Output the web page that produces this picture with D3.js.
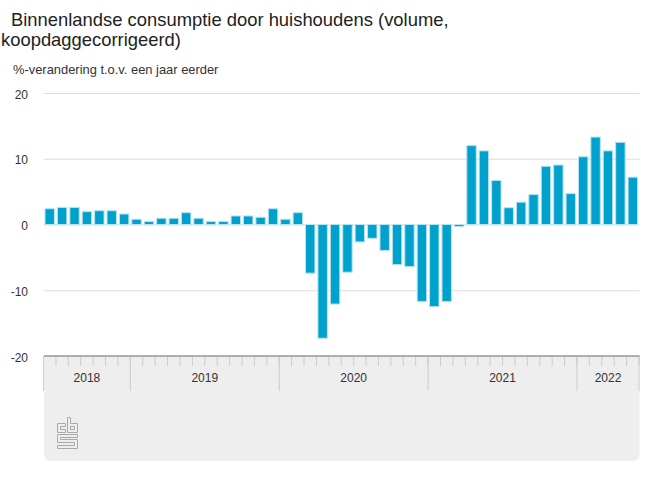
<!DOCTYPE html>
<html>
<head>
<meta charset="utf-8">
<script src="https://d3js.org/d3.v7.min.js"></script>
<style>
  html, body { margin: 0; padding: 0; background: #fff; }
  text { font-family: "Liberation Sans", Arial, sans-serif; }
</style>
</head>
<body>
<script>
var titleLines = ["Binnenlandse consumptie door huishoudens (volume,", "koopdaggecorrigeerd)"];
var subtitle = "%-verandering t.o.v. een jaar eerder";

// jun 2018 t/m mei 2022
var years = [2018, 2019, 2020, 2021, 2022];
var monthsPerYear = [7, 12, 12, 12, 5];
var yTicks = [20, 10, 0, -10, -20];
var values = [
  2.4, 2.6, 2.6, 1.95, 2.1, 2.1, 1.6,
  0.8, 0.45, 0.95, 0.95, 1.8, 0.95, 0.45, 0.45, 1.3, 1.3, 1.1, 2.4,
  0.8, 1.8, -7.4, -17.3, -12.1, -7.25, -2.65, -2.1, -3.95, -6.1, -6.4, -11.7,
  -12.5, -11.7, -0.3, 12.0, 11.2, 6.7, 2.55, 3.4, 4.55, 8.85, 9.05, 4.7,
  10.3, 13.3, 11.2, 12.5, 7.2
];

var width = 650, height = 488;
// plot area (window.top is taken, so no plain "top" here)
var plotLeft = 43.5, plotRight = 639, plotTop = 93, plotBottom = 356;
var footerLeft = 44, footerRight = 639.5, footerBottom = 461;

var svg = d3.select("body").append("svg")
  .attr("width", width)
  .attr("height", height)
  .style("display", "block");

var x = d3.scaleBand()
  .domain(d3.range(values.length))
  .range([plotLeft, plotRight])
  .paddingInner(0.24)
  .paddingOuter(0.12);

var y = d3.scaleLinear().domain([-20, 20]).range([plotBottom, plotTop]);

// grey footer with rounded lower corners
svg.append("path")
  .attr("d", "M" + footerLeft + "," + plotBottom + "H" + footerRight + "V" + (footerBottom - 6) + "a6,6 0 0 1 -6,6H" + (footerLeft + 6) + "a6,6 0 0 1 -6,-6Z")
  .attr("fill", "#eeeeee");

// title
svg.append("text").attr("x", 11).attr("y", 26).attr("font-size", 18.4).attr("fill", "#222").text(titleLines[0]);
svg.append("text").attr("x", 1).attr("y", 46).attr("font-size", 18.4).attr("fill", "#222").text(titleLines[1]);
svg.append("text").attr("x", 13).attr("y", 74).attr("font-size", 12.9).attr("fill", "#333").text(subtitle);

// y axis + gridlines
var yAxis = d3.axisLeft(y)
  .tickValues(yTicks)
  .tickFormat(function(d) { return String(d); })
  .tickSize(footerLeft - footerRight)
  .tickPadding(16);
var yG = svg.append("g").attr("transform", "translate(" + footerLeft + ",0)").call(yAxis);
yG.select(".domain").remove();
yG.selectAll(".tick line").attr("stroke", "#dddddd");
yG.selectAll(".tick text")
  .attr("font-size", 12)
  .attr("dy", "0.42em")
  .attr("fill", "#333")
  .attr("font-family", "Liberation Sans");

// bars
svg.selectAll("rect.bar")
  .data(values)
  .enter()
  .append("rect")
  .attr("class", "bar")
  .attr("x", function(d, i) { return x(i); })
  .attr("width", x.bandwidth())
  .attr("y", function(d) { return d > 0 ? y(d) : y(0); })
  .attr("height", function(d) { return Math.abs(y(d) - y(0)); })
  .attr("fill", "#00a1cd")
  .attr("stroke", "#b5e3f0")
  .attr("stroke-width", 1);

// time axis
var axisX = d3.scaleLinear().domain([0, values.length]).range([plotLeft, plotRight]);
var monthEdges = d3.range(values.length + 1);
var yearEdges = [0];
monthsPerYear.forEach(function(m, i) { yearEdges.push(yearEdges[i] + m); });

svg.selectAll("line.month")
  .data(monthEdges)
  .enter()
  .append("line")
  .attr("class", "month")
  .attr("x1", function(d) { return axisX(d); })
  .attr("x2", function(d) { return axisX(d); })
  .attr("y1", plotBottom)
  .attr("y2", plotBottom + 10)
  .attr("stroke", "#cccccc");

svg.selectAll("line.year")
  .data(yearEdges)
  .enter()
  .append("line")
  .attr("class", "year")
  .attr("x1", function(d) { return axisX(d); })
  .attr("x2", function(d) { return axisX(d); })
  .attr("y1", plotBottom)
  .attr("y2", plotBottom + 35)
  .attr("stroke", "#cccccc");

svg.append("line")
  .attr("x1", footerLeft).attr("x2", footerRight)
  .attr("y1", plotBottom).attr("y2", plotBottom)
  .attr("stroke", "#999999")
  .attr("stroke-width", 1.5);

svg.selectAll("text.year")
  .data(years)
  .enter()
  .append("text")
  .attr("class", "year")
  .attr("x", function(d, i) { return axisX((yearEdges[i] + yearEdges[i + 1]) / 2); })
  .attr("y", 382)
  .attr("text-anchor", "middle")
  .attr("font-size", 12)
  .attr("fill", "#333")
  .text(function(d) { return d; });

// cbs logo
var logo = svg.append("g")
  .attr("transform", "translate(57.5,417.5)")
  .attr("fill", "none")
  .attr("stroke", "#aaaaaa")
  .attr("stroke-width", 1);
logo.append("path").attr("d", "M8,6H0V15H8V12H3V9H8Z");
logo.append("path").attr("d", "M10,15V0H13V6H20V15ZM13,9V12H17V9Z");
logo.append("path").attr("d", "M0,17H20V20H3V22H20V31H0V28H17V25H0Z");
</script>
</body>
</html>
